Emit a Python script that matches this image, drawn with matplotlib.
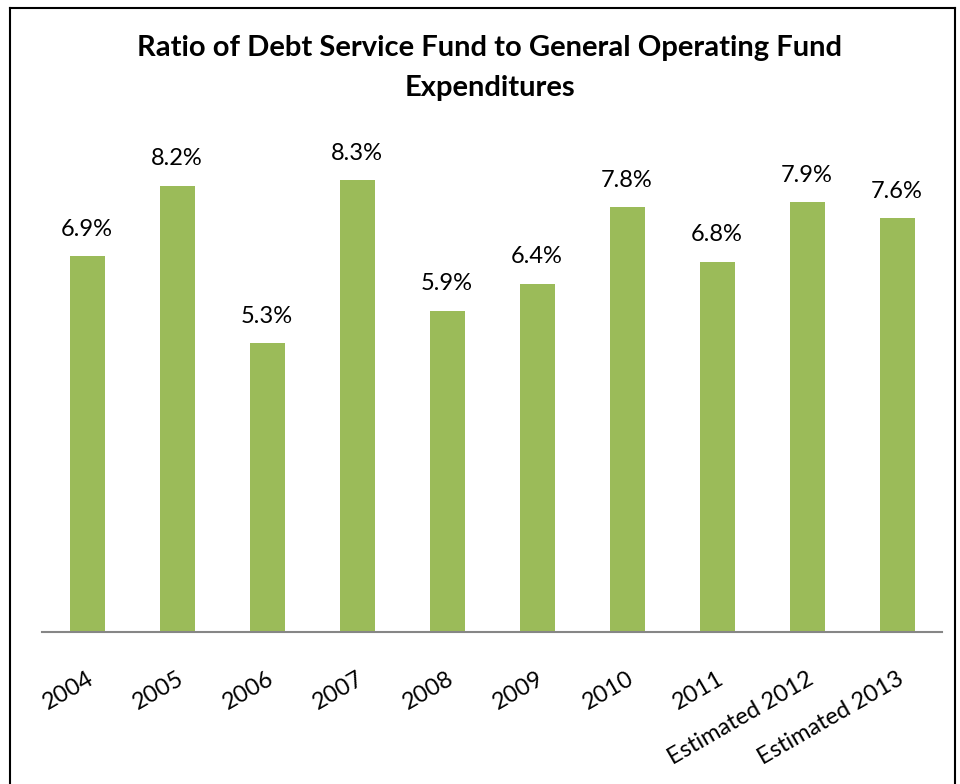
import matplotlib.pyplot as plt
from matplotlib.lines import Line2D

# data
categories = ['2004', '2005', '2006', '2007', '2008', '2009', '2010', '2011',
              'Estimated 2012', 'Estimated 2013']
ratio = [6.9, 8.2, 5.3, 8.3, 5.9, 6.4, 7.8, 6.8, 7.9, 7.6]

plt.rcParams['font.family'] = ['Lato', 'DejaVu Sans']

W, H = 960, 784
fig = plt.figure(figsize=(W / 100, H / 100), dpi=100)
ax = fig.add_axes([42 / W, 152 / H, 900 / W, 490 / H])

x = range(len(categories))
ax.bar(x, ratio, width=35 / 90, color='#9BBB59')
for xi, v in zip(x, ratio):
    ax.text(xi, v + 0.3, f'{v:.1f}%', ha='center', va='bottom', fontsize=17)

ax.set_xlim(-0.5, len(categories) - 0.5)
ax.set_ylim(0, 9)
ax.set_yticks([])
ax.set_xticks(list(x))
ax.set_xticklabels(categories, rotation=30, ha='right', rotation_mode='anchor',
                   fontsize=17)
ax.tick_params(axis='x', length=0, pad=26)
for s in ['left', 'right', 'top']:
    ax.spines[s].set_visible(False)
ax.spines['bottom'].set_color('#868686')
ax.spines['bottom'].set_linewidth(1.5)

fig.text(490 / W, 1 - 48 / H, 'Ratio of Debt Service Fund to General Operating Fund',
         ha='center', va='center', fontsize=21, fontweight='bold')
fig.text(490 / W, 1 - 88 / H, 'Expenditures',
         ha='center', va='center', fontsize=21, fontweight='bold')

# outer frame (left, top, right)
fig.add_artist(Line2D([10 / W, 10 / W], [0, 1 - 8 / H], color='black', lw=1.5))
fig.add_artist(Line2D([10 / W, 955 / W], [1 - 8 / H, 1 - 8 / H], color='black', lw=1.5))
fig.add_artist(Line2D([955 / W, 955 / W], [0, 1 - 8 / H], color='black', lw=1.5))

fig.savefig('out.png', dpi=100)
